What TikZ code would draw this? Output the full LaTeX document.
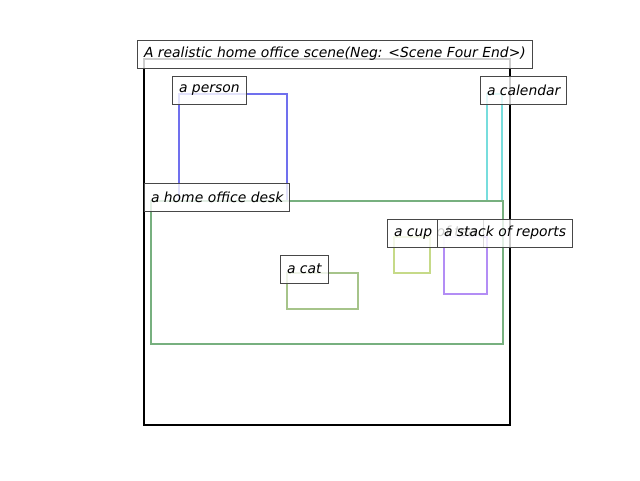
\documentclass[tikz,border=0pt]{standalone}
\usepackage{fontspec}
\setmainfont{DejaVu Sans}
\begin{document}
\begin{tikzpicture}[x=1pt,y=-1pt,
  objbox/.style={line width=2.3pt},
  lbl/.style={draw=black!72, line width=1pt, fill=white, fill opacity=0.8, text opacity=1,
    font=\fontsize{13.9}{16}\selectfont\itshape, inner xsep=6.5pt, inner ysep=0pt,
    minimum height=28pt, anchor=west}]
\definecolor{cperson}{HTML}{7070EE}
\definecolor{ccal}{HTML}{77DDDD}
\definecolor{cdesk}{HTML}{77B07F}
\definecolor{ccat}{HTML}{A6C48A}
\definecolor{ccup}{HTML}{C6DA88}
\definecolor{cstack}{HTML}{B38DF5}
\useasboundingbox (0,0) rectangle (640,480);
\draw[objbox, black, line width=2.5pt] (144,59) rectangle (510,425);
\draw[objbox, cperson] (179,94) rectangle (287,201);
\draw[objbox, ccal] (487,94) rectangle (502,201);
\draw[objbox, cdesk] (151,201) rectangle (503,344);
\draw[objbox, ccat] (287,273) rectangle (358,309);
\draw[objbox, ccup] (394,237) rectangle (430,273);
\draw[objbox, cstack] (444,237) rectangle (487,294);
\node[lbl] (title) at (137,54) {A realistic home office scene(Neg: <Scene Four End>)};
\node[lbl] (lperson) at (172,90) {a person};
\node[lbl] (lcal) at (480,90) {a calendar};
\node[lbl] (ldesk) at (144,197) {a home office desk};
\node[lbl] (lcat) at (280,269) {a cat};
\node[lbl] (lcup) at (387,233) {a cup of tea};
\node[lbl] (lstack) at (437,233) {a stack of reports};
\end{tikzpicture}
\end{document}
